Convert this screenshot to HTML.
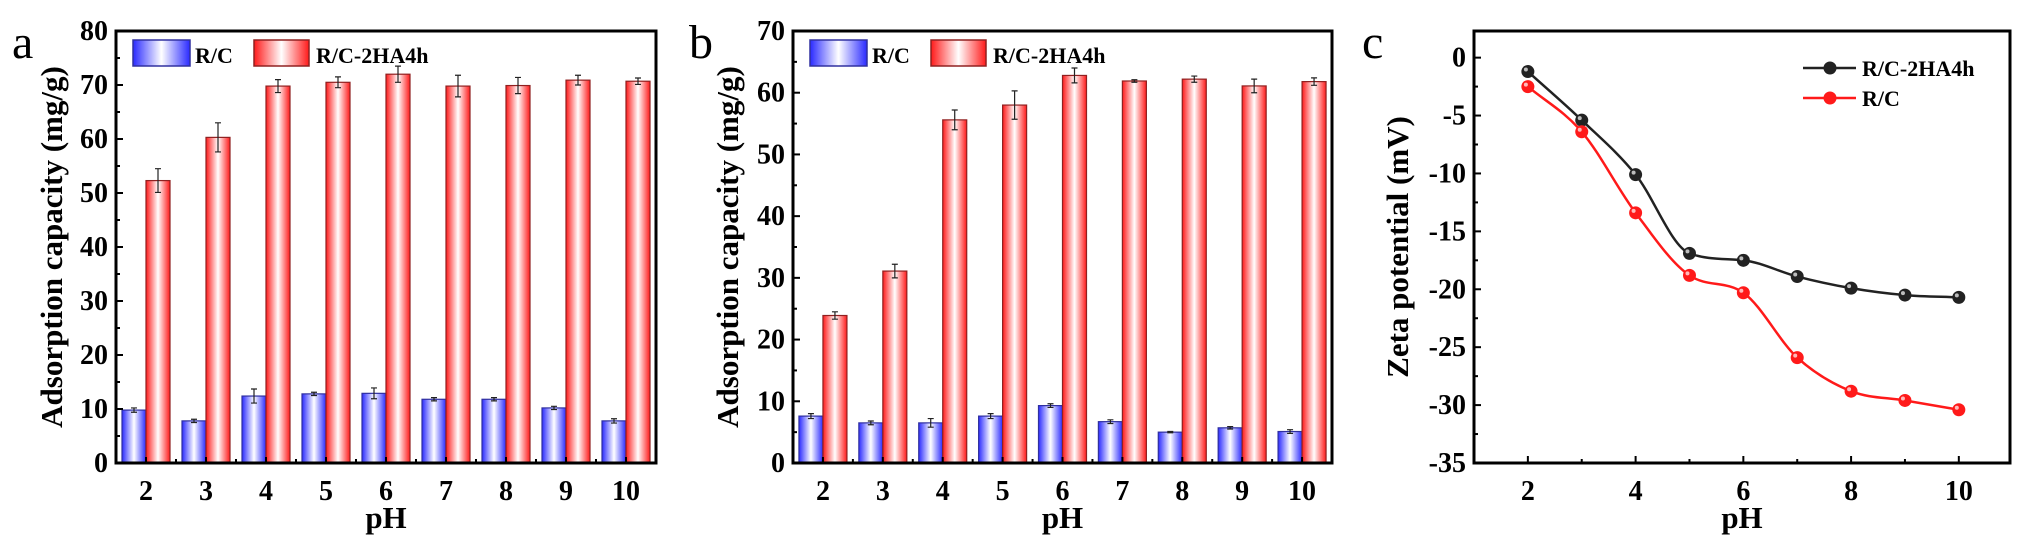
<!DOCTYPE html>
<html><head><meta charset="utf-8"><style>
html,body{margin:0;padding:0;background:#fff;width:2020px;height:546px;overflow:hidden}
svg text{font-family:"Liberation Serif",serif}
</style></head><body>
<svg id="s" width="2020" height="546" xmlns="http://www.w3.org/2000/svg">
<defs>
<linearGradient id="gb" x1="0" x2="1" y1="0" y2="0"><stop offset="0" stop-color="#2a2aff"/><stop offset="0.5" stop-color="#ffffff"/><stop offset="1" stop-color="#2a2aff"/></linearGradient>
<linearGradient id="gr" x1="0" x2="1" y1="0" y2="0"><stop offset="0" stop-color="#ff1a1a"/><stop offset="0.5" stop-color="#ffffff"/><stop offset="1" stop-color="#ff1a1a"/></linearGradient>
</defs>
</svg>
<script>
const S=document.getElementById('s');let h='';
const T=31,B=463;
function bars(L,R,ymax,blue,red,eb,er,letter,lx){
  const py=v=>B-v/ymax*(B-T);
  const u=(R-L)/9;
  for(let i=0;i<9;i++){
    const c=L+u*(i+0.5);
    const w=24;
    [[blue[i],eb[i],c-w,'gb','#3030a0'],[red[i],er[i],c,'gr','#902020']].forEach(([v,e,x,g,st])=>{
      h+=`<rect x="${x}" y="${py(v)}" width="${w}" height="${B-py(v)}" fill="url(#${g})" stroke="${st}" stroke-width="1.2"/>`;
      const xc=x+w/2;
      h+=`<path d="M${xc} ${py(v+e)}V${py(v-e)}M${xc-3} ${py(v+e)}H${xc+3}M${xc-3} ${py(v-e)}H${xc+3}" stroke="#222" stroke-width="1.2"/>`;
    });
    h+=`<path d="M${c} ${B}v-6" stroke="#000" stroke-width="2"/>`;
    h+=`<text x="${c}" y="500" font-size="28" font-weight="bold" text-anchor="middle">${i+2}</text>`;
    if(i<8) h+=`<path d="M${L+u*(i+1)} ${B}v-4" stroke="#000" stroke-width="2"/>`;
  }
  for(let v=0;v<=ymax;v+=10){
    h+=`<path d="M${L} ${py(v)}h7" stroke="#000" stroke-width="2"/>`;
    if(v<ymax)h+=`<path d="M${L} ${py(v+5)}h4" stroke="#000" stroke-width="2"/>`;
    h+=`<text x="${L-8}" y="${py(v)+9}" font-size="28" font-weight="bold" text-anchor="end">${v}</text>`;
  }
  h+=`<rect x="${L}" y="${T}" width="${R-L}" height="${B-T}" fill="none" stroke="#000" stroke-width="3"/>`;
  const cx=(L+R)/2;
  h+=`<text x="${cx}" y="528" font-size="31" font-weight="bold" text-anchor="middle">pH</text>`;
  h+=`<text transform="translate(${lx},${(T+B)/2}) rotate(-90)" font-size="31" font-weight="bold" text-anchor="middle">Adsorption capacity (mg/g)</text>`;
  h+=`<text x="${L-104}" y="58" font-size="48">${letter}</text>`;
  h+=`<rect x="${L+17}" y="40" width="57" height="26" fill="url(#gb)" stroke="#3030a0" stroke-width="1.5"/>`;
  h+=`<text x="${L+79}" y="63" font-size="22" font-weight="bold">R/C</text>`;
  h+=`<rect x="${L+138}" y="40" width="55" height="26" fill="url(#gr)" stroke="#902020" stroke-width="1.5"/>`;
  h+=`<text x="${L+200}" y="63" font-size="22" font-weight="bold">R/C-2HA4h</text>`;
}
bars(116,656,80,[9.8,7.8,12.4,12.8,12.9,11.8,11.8,10.2,7.8],[52.3,60.3,69.8,70.5,72,69.8,69.9,70.9,70.7],
 [.4,.3,1.3,.3,1,.3,.3,.3,.4],[2.2,2.7,1.2,1,1.5,2,1.5,.9,.6],'a',62);
bars(793,1332,70,[7.6,6.5,6.5,7.6,9.3,6.7,5.0,5.7,5.1],[23.9,31.1,55.6,58,62.8,61.9,62.2,61.1,61.8],
 [.4,.3,.7,.4,.3,.3,.1,.2,.3],[.6,1.1,1.6,2.3,1.2,.2,.5,1.1,.6],'b',738);
(function(){
 const L=1474,R=2010;
 const px=x=>L+(x-1)*(R-L)/9.95;
 const pyy=v=>B-(v+35)/37.3*(B-T);
 for(let v=-35;v<=0;v+=5){
   h+=`<path d="M${L} ${pyy(v)}h7" stroke="#000" stroke-width="2"/>`;
   if(v<0)h+=`<path d="M${L} ${pyy(v+2.5)}h4" stroke="#000" stroke-width="2"/>`;
   h+=`<text x="${L-8}" y="${pyy(v)+9}" font-size="28" font-weight="bold" text-anchor="end">${v}</text>`;
 }
 for(let x=2;x<=10;x++){
   h+=`<path d="M${px(x)} ${B}v-${x%2==0?7:4}" stroke="#000" stroke-width="2"/>`;
   if(x%2==0)h+=`<text x="${px(x)}" y="500" font-size="28" font-weight="bold" text-anchor="middle">${x}</text>`;
 }
 function curve(vals,col){
   const P=vals.map((v,i)=>[px(i+2),pyy(v)]);
   const n=P.length, dx=P[1][0]-P[0][0];
   const d=[];for(let i=0;i<n-1;i++)d.push((P[i+1][1]-P[i][1])/dx);
   const m=[d[0]];
   for(let i=1;i<n-1;i++){m.push(d[i-1]*d[i]<=0?0:(d[i-1]+d[i])/2);}
   m.push(d[n-2]);
   for(let i=0;i<n-1;i++){if(d[i]==0){m[i]=m[i+1]=0;continue;}const a=m[i]/d[i],b=m[i+1]/d[i],s=a*a+b*b;if(s>9){const t=3/Math.sqrt(s);m[i]=t*a*d[i];m[i+1]=t*b*d[i];}}
   let p=`M${P[0][0]} ${P[0][1]}`;
   for(let i=0;i<n-1;i++){
     p+=` C${P[i][0]+dx/3} ${P[i][1]+m[i]*dx/3} ${P[i+1][0]-dx/3} ${P[i+1][1]-m[i+1]*dx/3} ${P[i+1][0]} ${P[i+1][1]}`;
   }
   h+=`<path d="${p}" fill="none" stroke="${col}" stroke-width="2.5"/>`;
   P.forEach(q=>h+=`<circle cx="${q[0]}" cy="${q[1]}" r="6.5" fill="${col}"/><circle cx="${q[0]-2}" cy="${q[1]-2}" r="2" fill="#fff" opacity="0.7"/>`);
 }
 curve([-1.2,-5.4,-10.1,-16.9,-17.5,-18.9,-19.9,-20.5,-20.7],'#222');
 curve([-2.5,-6.4,-13.4,-18.8,-20.3,-25.9,-28.8,-29.6,-30.4],'#ff1a1a');
 h+=`<rect x="${L}" y="${T}" width="${R-L}" height="${B-T}" fill="none" stroke="#000" stroke-width="3"/>`;
 h+=`<path d="M1803 68h53" stroke="#222" stroke-width="2.5"/><circle cx="1830" cy="68" r="6.5" fill="#222"/>`;
 h+=`<text x="1862" y="76" font-size="22" font-weight="bold">R/C-2HA4h</text>`;
 h+=`<path d="M1803 98h53" stroke="#ff1a1a" stroke-width="2.5"/><circle cx="1830" cy="98" r="6.5" fill="#ff1a1a"/>`;
 h+=`<text x="1862" y="106" font-size="22" font-weight="bold">R/C</text>`;
 h+=`<text x="${(L+R)/2}" y="528" font-size="31" font-weight="bold" text-anchor="middle">pH</text>`;
 h+=`<text transform="translate(1408,${(T+B)/2}) rotate(-90)" font-size="31" font-weight="bold" text-anchor="middle">Zeta potential (mV)</text>`;
 h+=`<text x="1362" y="58" font-size="48">c</text>`;
})();
S.innerHTML+=h;
</script>
</body></html>
